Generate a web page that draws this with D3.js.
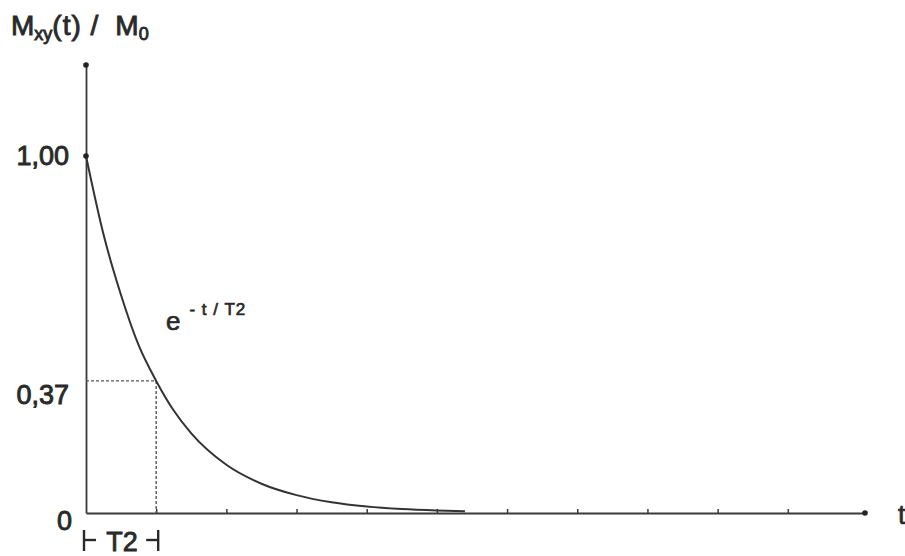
<!DOCTYPE html>
<html>
<head>
<meta charset="utf-8">
<script src="https://cdn.jsdelivr.net/npm/d3@7/dist/d3.min.js"></script>
<style>
  html, body { margin: 0; padding: 0; background: #fff; }
  svg { display: block; }
  text { font-family: "Liberation Sans", Arial, sans-serif; fill: #2a2a2a; }
</style>
</head>
<body>
<svg id="chart" width="905" height="556"></svg>
<script>
// ---- data (t in units of T2) ----
const curveT = [0, 0.25, 0.5, 0.75, 1, 1.25, 1.5, 2, 2.5, 3, 3.5, 4, 4.5, 5, 5.4];
const curveM = [1.00, 0.78, 0.61, 0.47, 0.37, 0.287, 0.223, 0.135, 0.082, 0.05, 0.03, 0.018, 0.011, 0.007, 0.005];
const xTickValues = [1, 2, 3, 4, 5, 6, 7, 8, 9, 10];
const yTickValues = [1.00, 0.37, 0];
const yTickLabels = ["1,00", "0,37", "0"];
const markerT = 1;          // t = T2
const markerM = 0.37;       // e^-1
const xMax = 11.1, yMax = 1.255;

const svg = d3.select("#chart");
const x = d3.scaleLinear().domain([0, xMax]).range([86, 865]);
const y = d3.scaleLinear().domain([0, yMax]).range([513, 65]);

const ink = "#3a3a3a";

// x axis with small upward ticks
const xAxis = d3.axisBottom(x).tickValues(xTickValues).tickSizeInner(-4).tickSizeOuter(0).tickFormat("");
const gx = svg.append("g").attr("transform", `translate(0,${y(0)})`).call(xAxis);
gx.select(".domain").attr("stroke", ink).attr("stroke-width", 1.8);
gx.selectAll(".tick line").attr("stroke", ink).attr("stroke-width", 1.5);

// y axis line
const yAxis = d3.axisLeft(y).tickValues([]).tickSizeOuter(0);
const gy = svg.append("g").attr("transform", `translate(${x(0)},0)`).call(yAxis);
gy.select(".domain").attr("stroke", ink).attr("stroke-width", 1.8);

// y labels
const yLabelDy = [9, 23, 17];
svg.selectAll("text.ylab").data(yTickValues).enter().append("text")
  .attr("class", "ylab")
  .attr("x", (d, i) => i === 2 ? 72 : 69)
  .attr("y", (d, i) => y(d) + yLabelDy[i])
  .attr("text-anchor", "end")
  .attr("font-size", 27)
  .attr("stroke", "#2a2a2a").attr("stroke-width", 0.9)
  .text((d, i) => yTickLabels[i]);

// dashed guide lines
svg.append("line")
  .attr("x1", x(0)).attr("x2", x(markerT))
  .attr("y1", y(markerM)).attr("y2", y(markerM))
  .attr("stroke", "#555").attr("stroke-width", 1.4).attr("stroke-dasharray", "3,2");
svg.append("line")
  .attr("x1", x(markerT)).attr("x2", x(markerT))
  .attr("y1", y(markerM)).attr("y2", y(0))
  .attr("stroke", "#555").attr("stroke-width", 1.4).attr("stroke-dasharray", "3,2");

// decay curve
const pts = curveT.map((t, i) => [t, curveM[i]]);
svg.append("path").datum(pts)
  .attr("fill", "none").attr("stroke", "#333").attr("stroke-width", 2)
  .attr("d", d3.line().x(d => x(d[0])).y(d => y(d[1])).curve(d3.curveMonotoneX));

// dots
const dots = [[0, yMax], [xMax, 0], [0, 1]];
svg.selectAll("circle.dot").data(dots).enter().append("circle")
  .attr("cx", d => x(d[0])).attr("cy", d => y(d[1])).attr("r", 2.8).attr("fill", "#222");

// title  M_xy(t) / M_0
const title = svg.append("text").attr("x", 11).attr("y", 35).attr("font-size", 28)
  .attr("stroke", "#2a2a2a").attr("stroke-width", 0.9);
title.append("tspan").text("M");
title.append("tspan").attr("font-size", 18).attr("dy", 5).text("xy");
title.append("tspan").attr("dy", -5).attr("letter-spacing", 1).text("(t) /");
title.append("tspan").attr("dx", 16).text("M");
title.append("tspan").attr("font-size", 18).attr("dy", 5).text("0");

// formula label e^{-t/T2}
const f = svg.append("text").attr("x", 166).attr("y", 330).attr("font-size", 26)
  .attr("stroke", "#2a2a2a").attr("stroke-width", 0.7);
f.append("tspan").text("e");
f.append("tspan").attr("font-size", 17).attr("dy", -15).attr("dx", 9)
  .attr("letter-spacing", 1).text("- t / T2");

// T2 bracket under the axis
const by1 = 530, by2 = 551, bmid = 540;
const bracket = svg.append("g").attr("stroke", "#2a2a2a").attr("stroke-width", 2.4);
bracket.append("line").attr("x1", x(0) - 2).attr("x2", x(0) - 2).attr("y1", by1).attr("y2", by2);
bracket.append("line").attr("x1", x(0) - 2).attr("x2", x(0) + 10).attr("y1", bmid).attr("y2", bmid);
bracket.append("line").attr("x1", x(markerT) + 2).attr("x2", x(markerT) + 2).attr("y1", by1).attr("y2", by2);
bracket.append("line").attr("x1", x(markerT) + 2).attr("x2", x(markerT) - 10).attr("y1", bmid).attr("y2", bmid);
svg.append("text").attr("x", (x(0) + x(markerT)) / 2 + 1).attr("y", 551)
  .attr("text-anchor", "middle").attr("font-size", 27)
  .attr("stroke", "#2a2a2a").attr("stroke-width", 0.8).text("T2");

// t axis label
svg.append("text").attr("x", 898).attr("y", 524).attr("font-size", 27)
  .attr("stroke", "#2a2a2a").attr("stroke-width", 0.7).text("t");
</script>
</body>
</html>
